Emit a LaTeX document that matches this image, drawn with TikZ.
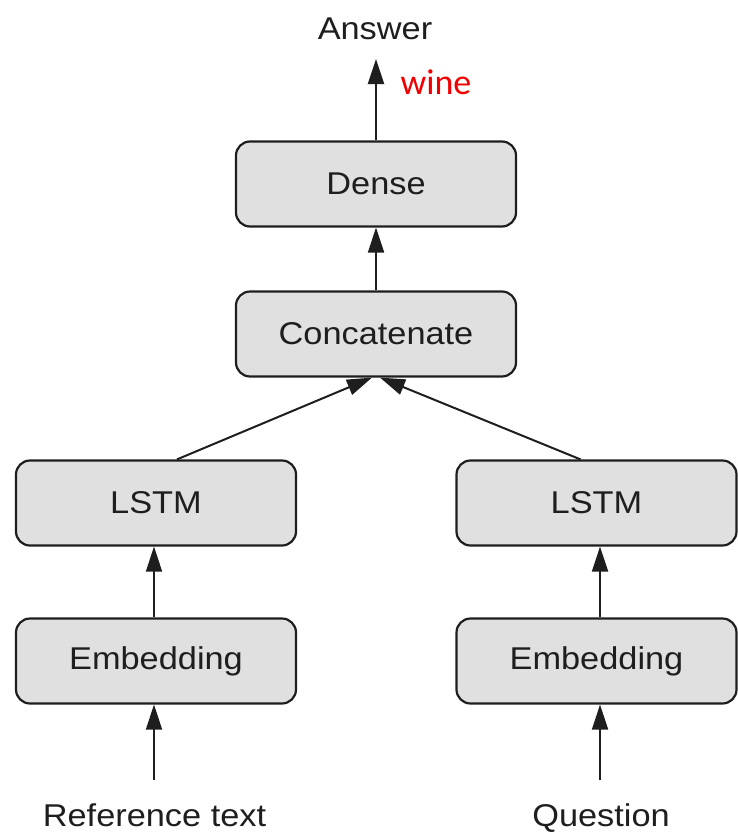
\documentclass[tikz,border=0pt]{standalone}
\usepackage{fontspec}
\setmainfont{Liberation Sans}[FakeStretch=1.09]
\newfontfamily\notefont{Carlito}
\usetikzlibrary{arrows.meta}
\definecolor{boxfill}{RGB}{224,224,224}
\definecolor{inkline}{RGB}{30,30,30}
\definecolor{notered}{RGB}{240,0,0}
\begin{document}
\begin{tikzpicture}[x=1pt,y=-1pt,
  layer/.style={draw=inkline, line width=2.2pt, fill=boxfill, rounded corners=14pt,
    minimum width=280pt, minimum height=85pt, inner sep=0pt,
    font=\fontsize{31.5}{38}\selectfont, text=inkline},
  label/.style={inner sep=0pt, font=\fontsize{31.5}{38}\selectfont, text=inkline},
  flow/.style={draw=inkline, line width=2pt, -{Triangle[length=25pt,width=16pt]}}]
  \useasboundingbox (0,0) rectangle (738,833);

  % layers
  \node[layer] (dense)  at (376,184) {Dense};
  \node[layer] (concat) at (376,334) {Concatenate};
  \node[layer] (lstmL)  at (156,503) {LSTM};
  \node[layer] (lstmR)  at (596.5,503) {LSTM};
  \node[layer] (embL)   at (156,661) {Embedding};
  \node[layer] (embR)   at (596.5,661) {Embedding};

  % inputs and output
  \node[label, anchor=base] (answer) at (375,39) {Answer};
  \node[inner sep=0pt, anchor=base, font=\notefont\fontsize{36}{42}\selectfont, text=notered] (wine) at (436,94) {wine};
  \node[label, anchor=base] (reftext) at (154.5,826) {Reference text};
  \node[label, anchor=base] (question) at (601,826) {Question};

  \coordinate (inL) at (154,780);
  \coordinate (inR) at (600,780);
  \coordinate (outTip) at (376,59);

  % connectors
  \draw[flow] (inL) -- (inL |- embL.south);
  \draw[flow] (inR) -- (inR |- embR.south);
  \draw[flow] (inL |- embL.north) -- (inL |- lstmL.south);
  \draw[flow] (inR |- embR.north) -- (inR |- lstmR.south);
  \draw[flow] ([xshift=21pt]lstmL.north) -- ([xshift=-4pt]concat.south);
  \draw[flow] ([xshift=-16pt]lstmR.north) -- ([xshift=4pt]concat.south);
  \draw[flow] (concat.north) -- (dense.south);
  \draw[flow] (dense.north) -- (outTip);
\end{tikzpicture}
\end{document}
